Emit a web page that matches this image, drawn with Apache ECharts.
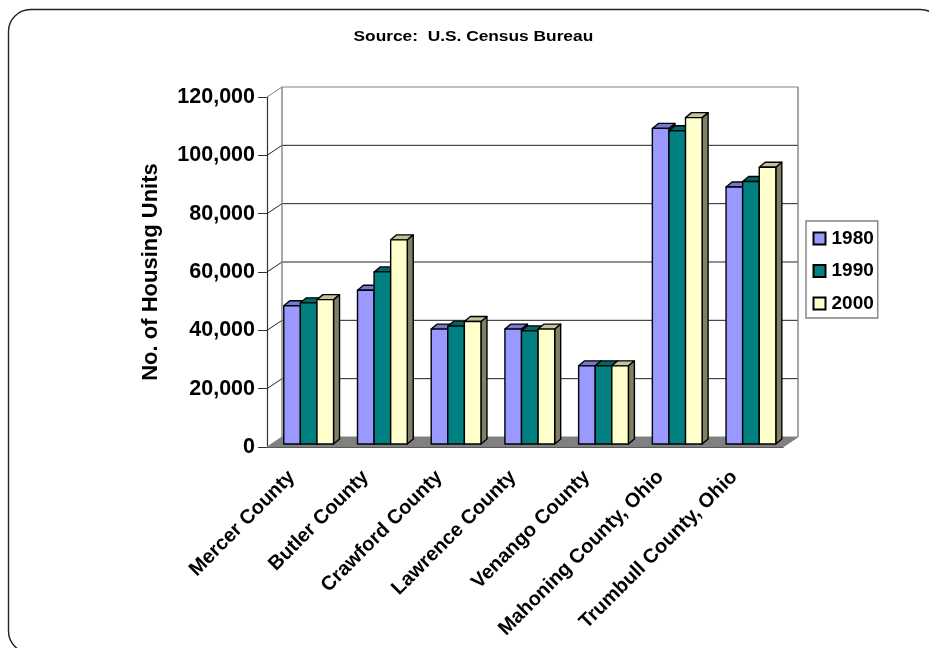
<!DOCTYPE html>
<html>
<head>
<meta charset="utf-8">
<style>html,body{margin:0;padding:0;background:#fff}#c{width:929px;height:648px}</style>
<script src="https://cdn.jsdelivr.net/npm/echarts@6/dist/echarts.min.js"></script>
</head>
<body>
<div id="c"></div>
<script>
const categories = ['Mercer County', 'Butler County', 'Crawford County', 'Lawrence County', 'Venango County', 'Mahoning County, Ohio', 'Trumbull County, Ohio'];
const units1980 = [47400, 52700, 39400, 39400, 26800, 108200, 88100];
const units1990 = [48400, 59000, 40400, 38800, 26800, 107400, 90000];
const units2000 = [49500, 70000, 42000, 39400, 26800, 111900, 94900];
const yTicks = [0, 20000, 40000, 60000, 80000, 100000, 120000];

// Depth of the chart box and of each column, in pixels
const WALL_DX = 15, WALL_DY = 10;
const BAR_DX = 6, BAR_DY = 5;
const BAR_SHIFT_X = 4.8, BAR_SHIFT_Y = 3;
const BAR_RATIO = 0.225;

function columnSeries(name, values, index, face, top, side) {
  return {
    name, type: 'custom', coordinateSystem: 'cartesian2d', z: 5,
    itemStyle: { color: face, borderColor: '#000', borderWidth: 1.4 },
    encode: { x: 0, y: 1 },
    data: values.map((v, i) => [i, v]),
    renderItem(params, api) {
      const base = api.coord([api.value(0), 0]);
      const head = api.coord([api.value(0), api.value(1)]);
      const w = api.size([1, 0])[0] * BAR_RATIO;
      const x0 = base[0] + BAR_SHIFT_X + (index - 1.5) * w;
      const x1 = x0 + w;
      const yb = base[1] - BAR_SHIFT_Y;
      const yt = head[1] - BAR_SHIFT_Y;
      const line = { stroke: '#000', lineWidth: 1.4, lineJoin: 'round' };
      return {
        type: 'group',
        children: [
          { type: 'polygon', shape: { points: [[x1, yb], [x1 + BAR_DX, yb - BAR_DY], [x1 + BAR_DX, yt - BAR_DY], [x1, yt]] }, style: { fill: side, ...line } },
          { type: 'polygon', shape: { points: [[x0, yt], [x0 + BAR_DX, yt - BAR_DY], [x1 + BAR_DX, yt - BAR_DY], [x1, yt]] }, style: { fill: top, ...line } },
          { type: 'rect', shape: { x: x0, y: yt, width: w, height: yb - yt }, style: { fill: face, ...line } }
        ]
      };
    }
  };
}

// Back wall, gridlines and floor of the box, hung off the value axis scale
const wallSeries = {
  type: 'custom', coordinateSystem: 'cartesian2d', z: 1, silent: true,
  legendHoverLink: false,
  encode: { x: 0, y: 1 },
  data: yTicks.map(v => [0, v]),
  renderItem(params, api) {
    const v = api.value(1);
    const lastCat = categories.length - 1;
    const band = api.size([1, 0])[0];
    const left = api.coord([0, v]);
    const xL = left[0] - band / 2, xR = api.coord([lastCat, v])[0] + band / 2, y = left[1];
    const children = [];
    if (v === 0) {
      children.push({ type: 'polygon', shape: { points: [[xL, y], [xR, y], [xR + WALL_DX, y - WALL_DY], [xL + WALL_DX, y - WALL_DY]] }, style: { fill: '#808080', stroke: '#808080' } });
    }
    if (v === 120000) {
      const yBottom = api.coord([0, 0])[1];
      children.push({ type: 'polyline', shape: { points: [[xL + WALL_DX, yBottom - WALL_DY], [xL + WALL_DX, y - WALL_DY]] }, style: { stroke: '#808080', lineWidth: 1.4, fill: null } });
      children.push({ type: 'polyline', shape: { points: [[xR + WALL_DX, yBottom - WALL_DY], [xR + WALL_DX, y - WALL_DY]] }, style: { stroke: '#808080', lineWidth: 1.4, fill: null } });
    }
    const gridColor = (v === 120000) ? '#808080' : '#222';
    if (v !== 0) {
      children.push({ type: 'polyline', shape: { points: [[xL, y], [xL + WALL_DX, y - WALL_DY], [xR + WALL_DX, y - WALL_DY]] }, style: { stroke: gridColor, lineWidth: 1, fill: null } });
    }
    return { type: 'group', children };
  }
};

const chart = echarts.init(document.getElementById('c'), null, { renderer: 'canvas' });
chart.setOption({
  animation: false,
  backgroundColor: '#fff',
  textStyle: { fontFamily: 'Liberation Sans' },
  graphic: [{
    type: 'rect', z: 0, silent: true,
    shape: { x: 8.5, y: 9.5, width: 934, height: 643.5, r: 22 },
    style: { fill: 'none', stroke: '#222', lineWidth: 1.4 }
  }, {
    // Heading, stretched a little to the width of the chart's spaced-out lettering
    type: 'text', z: 10, silent: true,
    x: 353.5, y: 36.5, scaleX: 1.155,
    style: { text: 'Source:  U.S. Census Bureau', x: 0, y: 0, verticalAlign: 'middle', align: 'left',
      fontFamily: 'Liberation Sans', fontSize: 15, fontWeight: 'bold', fill: '#000' }
  }],
  legend: {
    orient: 'vertical', left: 806, top: 221,
    width: 72,
    data: ['1980', '1990', '2000'],
    icon: 'rect', itemWidth: 12, itemHeight: 12, itemGap: 13.5,
    padding: [8, 4, 5, 6.5],
    backgroundColor: '#fff', borderColor: '#808080', borderWidth: 1.4,
    textStyle: { fontFamily: 'Liberation Sans', fontSize: 19, fontWeight: 'bold', color: '#000', padding: [0, 0, 0, 1] }
  },
  grid: { left: 267, top: 97, width: 516, height: 350 },
  xAxis: {
    type: 'category', data: categories,
    axisLine: { lineStyle: { color: '#333', width: 1.2 } },
    axisTick: { alignWithLabel: false, length: 8, lineStyle: { color: '#555' } },
    axisLabel: { interval: 0, rotate: 45, margin: 15, padding: [0, 17, 0, 0], color: '#000', fontSize: 20, fontWeight: 'bold', fontFamily: 'Liberation Sans' }
  },
  yAxis: {
    type: 'value', min: 0, max: 120000, interval: 20000,
    name: 'No. of Housing Units', nameLocation: 'middle', nameGap: 105, nameRotate: 90,
    nameTextStyle: { color: '#000', fontSize: 22, fontWeight: 'bold', fontFamily: 'Liberation Sans' },
    splitLine: { show: false },
    axisLine: { show: true, lineStyle: { color: '#333', width: 1.2 } },
    axisTick: { show: true, length: 9, lineStyle: { color: '#333' } },
    axisLabel: { margin: 12, padding: [6, 0, 0, 0], color: '#000', fontSize: 21.5, fontWeight: 'bold', fontFamily: 'Liberation Sans',
      formatter: v => v.toLocaleString('en-US') }
  },
  series: [
    wallSeries,
    columnSeries('1980', units1980, 0, '#9999FF', '#7777CC', '#4D4D80'),
    columnSeries('1990', units1990, 1, '#008080', '#006666', '#004040'),
    columnSeries('2000', units2000, 2, '#FFFFCC', '#C2C29B', '#808066')
  ]
});
</script>
</body>
</html>
